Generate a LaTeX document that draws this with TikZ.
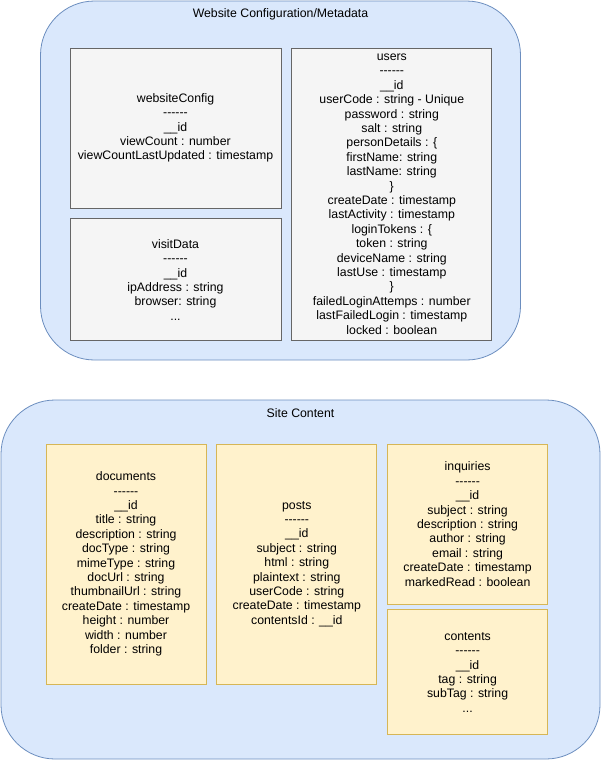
\documentclass[tikz,border=0pt]{standalone}
\usepackage{fontspec}
\setmainfont{Liberation Sans}
\usetikzlibrary{positioning}
\definecolor{grpfill}{HTML}{DAE8FC}
\definecolor{grpdraw}{HTML}{6C8EBF}
\definecolor{cfgfill}{HTML}{F5F5F5}
\definecolor{cfgdraw}{HTML}{666666}
\definecolor{docfill}{HTML}{FFF2CC}
\definecolor{docdraw}{HTML}{D6B656}
\newcommand{\rowsep}{-{}-{}-{}-{}-{}-}
\newcommand{\idrow}{\_\_id}
\tikzset{%
  group/.style  = { fill = grpfill, draw = grpdraw, line width = 0.8pt, rounded corners = 54pt,
                    inner sep = 0pt },
  gtitle/.style = { font = \fontsize{12.3}{14.4}\selectfont, anchor = base, inner sep = 0pt },
  tbox/.style   = { fill = #1fill, draw = #1draw, line width = 0.8pt, align = center, inner sep = 0pt,
                    font = \fontsize{12.3}{14.4}\selectfont }
}

\begin{document}
\begin{tikzpicture}[x=1pt, y=-1pt]
  \useasboundingbox (0,0) rectangle (601,761);
  % groups
  \node(meta)[group, minimum width = 480pt, minimum height = 359pt] at (280.5,180.5) {};
  \node(site)[group, minimum width = 599pt, minimum height = 359pt] at (300.5,579.5) {};
  \node(metatitle)[gtitle] at (280.5,17.5) {Website Configuration/Metadata};
  \node(sitetitle)[gtitle] at (300.5,417.5) {Site Content};
  % metadata collections
  \node(config)[tbox=cfg, minimum width = 211pt, minimum height = 160pt] at (175.5,128)
    {websiteConfig\\\rowsep\\\idrow\\viewCount : number\\viewCountLastUpdated : timestamp};
  \node(visit)[tbox=cfg, minimum width = 211pt, minimum height = 122pt, below = 10pt of config]
    {visitData\\\rowsep\\\idrow\\ipAddress : string\\browser: string\\...};
  \node(users)[tbox=cfg, minimum width = 200pt, minimum height = 292pt,
               right = 10pt of config.north east, anchor = north west]
    {users\\\rowsep\\\idrow\\userCode : string - Unique\\password : string\\salt : string\\
     personDetails : \{\\firstName: string\\lastName: string\\\}\\createDate : timestamp\\
     lastActivity : timestamp\\loginTokens : \{\\token : string\\deviceName : string\\
     lastUse : timestamp\\\}\\failedLoginAttemps : number\\lastFailedLogin : timestamp\\
     locked : boolean};
  % content collections
  \node(docs)[tbox=doc, minimum width = 160pt, minimum height = 240pt] at (126,564)
    {documents\\\rowsep\\\idrow\\title : string\\description : string\\docType : string\\
     mimeType : string\\docUrl : string\\thumbnailUrl : string\\createDate : timestamp\\
     height : number\\width : number\\folder : string};
  \node(posts)[tbox=doc, minimum width = 160pt, minimum height = 240pt, right = 10pt of docs]
    {posts\\\rowsep\\\idrow\\subject : string\\html : string\\plaintext : string\\
     userCode : string\\createDate : timestamp\\contentsId : \idrow};
  \node(inq)[tbox=doc, minimum width = 160pt, minimum height = 160pt,
             right = 10pt of posts.north east, anchor = north west]
    {inquiries\\\rowsep\\\idrow\\subject : string\\description : string\\author : string\\
     email : string\\createDate : timestamp\\markedRead : boolean};
  \node(contents)[tbox=doc, minimum width = 160pt, minimum height = 125pt, below = 5pt of inq]
    {contents\\\rowsep\\\idrow\\tag : string\\subTag : string\\...};
\end{tikzpicture}
\end{document}
